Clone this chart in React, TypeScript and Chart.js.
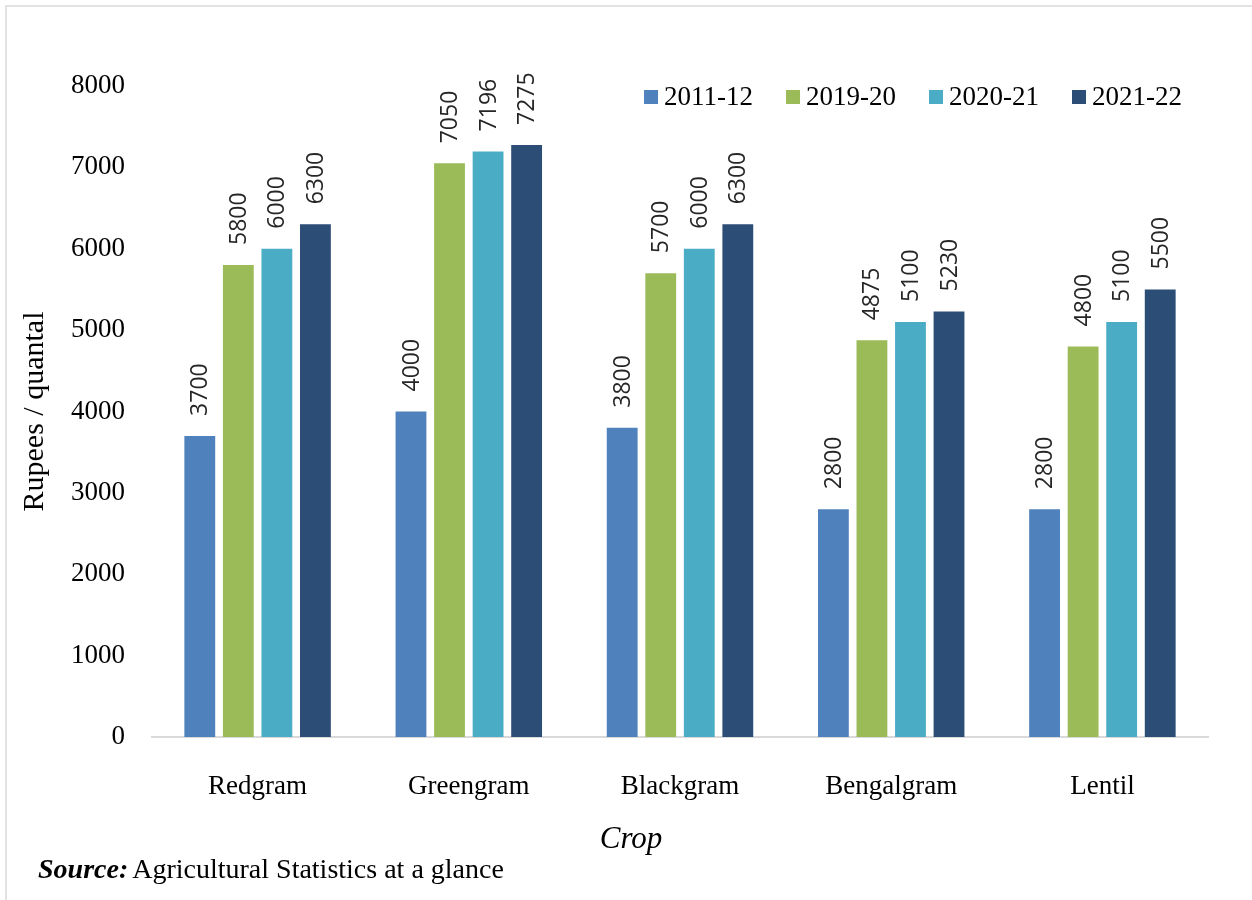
import React, { useEffect, useRef } from "react";
import { Chart, registerables } from "chart.js";

Chart.register(...registerables);

const crops = ["Redgram", "Greengram", "Blackgram", "Bengalgram", "Lentil"];
const seasons = ["2011-12", "2019-20", "2020-21", "2021-22"];
const msp2011 = [3700, 4000, 3800, 2800, 2800];
const msp2019 = [5800, 7050, 5700, 4875, 4800];
const msp2020 = [6000, 7196, 6000, 5100, 5100];
const msp2021 = [6300, 7275, 6300, 5230, 5500];
const seasonColors = ["#4F81BD", "#9BBB59", "#4BACC6", "#2C4D75"];
const yTicks = [0, 1000, 2000, 3000, 4000, 5000, 6000, 7000, 8000];

const SERIF = '"Liberation Serif", "Times New Roman", serif';
const SANS = '"Open Sans", "Liberation Sans", sans-serif';

const decorPlugin = {
  id: "decor",
  beforeDraw(chart: any) {
    const { ctx, width, height } = chart;
    ctx.save();
    ctx.fillStyle = "#ffffff";
    ctx.fillRect(0, 0, width, height);
    ctx.strokeStyle = "#e2e2e2";
    ctx.lineWidth = 2;
    ctx.beginPath();
    ctx.moveTo(6, height);
    ctx.lineTo(6, 6);
    ctx.lineTo(width, 6);
    ctx.stroke();
    ctx.restore();
  },
  afterDatasetsDraw(chart: any) {
    const { ctx, chartArea } = chart;
    ctx.save();
    // value labels, rotated to read upwards
    ctx.font = `23px ${SANS}`;
    ctx.fillStyle = "#262626";
    ctx.textAlign = "left";
    ctx.textBaseline = "middle";
    chart.data.datasets.forEach((ds: any, di: number) => {
      const meta = chart.getDatasetMeta(di);
      meta.data.forEach((bar: any, i: number) => {
        ctx.save();
        ctx.translate(bar.x, bar.y - 20);
        ctx.rotate(-Math.PI / 2);
        ctx.fillText(String(ds.data[i]), 0, 1);
        ctx.restore();
      });
    });

    // legend, right aligned near the top of the plot
    ctx.font = `27px ${SERIF}`;
    ctx.textBaseline = "middle";
    const sq = 14;
    const gapText = 6;
    const gapItem = 33;
    const widths = seasons.map((s) => ctx.measureText(s).width);
    const total =
      widths.reduce((a, b) => a + b, 0) + seasons.length * (sq + gapText) + (seasons.length - 1) * gapItem;
    let x = 1182 - total;
    const ly = 97;
    seasons.forEach((s, i) => {
      ctx.fillStyle = seasonColors[i];
      ctx.fillRect(x, ly - sq / 2, sq, sq);
      x += sq + gapText;
      ctx.fillStyle = "#000000";
      ctx.fillText(s, x, ly + 1);
      x += widths[i] + gapItem;
    });

    // axis titles
    ctx.save();
    ctx.translate(35, (chartArea.top + chartArea.bottom) / 2);
    ctx.rotate(-Math.PI / 2);
    ctx.textAlign = "center";
    ctx.font = `30px ${SERIF}`;
    ctx.fillStyle = "#000000";
    ctx.fillText("Rupees / quantal", 0, 0);
    ctx.restore();

    ctx.textAlign = "center";
    ctx.textBaseline = "alphabetic";
    ctx.font = `italic 31px ${SERIF}`;
    ctx.fillStyle = "#000000";
    ctx.fillText("Crop", 631, 848);

    // source note
    ctx.textAlign = "left";
    ctx.font = `bold italic 28px ${SERIF}`;
    ctx.fillText("Source:", 38, 878);
    const sw = ctx.measureText("Source:").width;
    ctx.font = `28px ${SERIF}`;
    ctx.fillText("Agricultural Statistics at a glance", 38 + sw + 4, 878);
    ctx.restore();
  },
};

export default function App() {
  const canvasRef = useRef<HTMLCanvasElement | null>(null);

  useEffect(() => {
    if (!canvasRef.current) return;
    const seriesValues = [msp2011, msp2019, msp2020, msp2021];
    const chart = new Chart(canvasRef.current, {
      type: "bar",
      data: {
        labels: crops,
        datasets: seasons.map((s, i) => ({
          label: s,
          data: seriesValues[i],
          backgroundColor: seasonColors[i],
          borderWidth: 0,
          categoryPercentage: 0.73,
          barPercentage: 0.8,
        })),
      },
      options: {
        responsive: false,
        animation: false,
        devicePixelRatio: 1,
        layout: { padding: { top: 86, right: 44, left: 0, bottom: 0 } },
        plugins: {
          legend: { display: false },
          tooltip: { enabled: false },
          title: { display: false },
        },
        scales: {
          x: {
            grid: { display: false, drawTicks: false },
            border: { display: true, color: "#d9d9d9", width: 2 },
            ticks: {
              padding: 34,
              color: "#000000",
              font: { family: SERIF, size: 27 },
            },
            afterFit: (scale: any) => {
              scale.height = 163;
            },
          },
          y: {
            min: 0,
            max: 8000,
            grid: { display: false, drawTicks: false },
            border: { display: false },
            afterBuildTicks: (scale: any) => {
              scale.ticks = yTicks.map((v) => ({ value: v }));
            },
            ticks: {
              padding: 27,
              color: "#000000",
              font: { family: SERIF, size: 27 },
              callback: (v: any) => String(v),
            },
            afterFit: (scale: any) => {
              scale.width = 152;
            },
          },
        },
      },
      plugins: [decorPlugin],
    });
    return () => chart.destroy();
  }, []);

  return (
    <div style={{ position: "fixed", left: 0, top: 0, width: 1252, height: 900, background: "#fff" }}>
      <canvas ref={canvasRef} width={1252} height={900} style={{ width: 1252, height: 900 }} />
    </div>
  );
}
